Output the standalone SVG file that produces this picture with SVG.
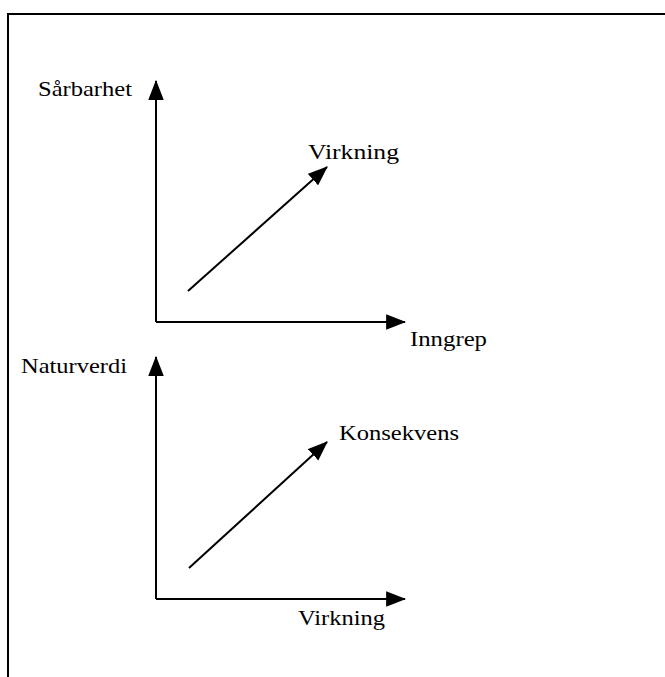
<svg xmlns="http://www.w3.org/2000/svg" width="665" height="677" viewBox="0 0 665 677">
<style>
.frame{fill:none;stroke:#000;stroke-width:2}
.ax{fill:none;stroke:#000;stroke-width:2;marker-end:url(#ah)}
text{font-family:"Liberation Serif","Times New Roman",serif;font-size:22px;fill:#000}
</style>
<defs>
<marker id="ah" markerUnits="userSpaceOnUse" markerWidth="20" markerHeight="16" viewBox="0 0 18 14" refX="17" refY="7" orient="auto">
<path d="M0,0 L18,7 L0,14 Z" fill="#000"/>
</marker>
</defs>
<rect width="665" height="677" fill="#fff"/>
<path class="frame" d="M8,677 V14 H665"/>
<g id="top-chart">
<g id="connectors-top">
<line class="ax" x1="156" y1="322" x2="156" y2="81"/>
<line class="ax" x1="156" y1="322" x2="405" y2="322"/>
<line class="ax" x1="188" y1="291" x2="327" y2="167"/>
</g>
<g id="label-sarbarhet"><text x="38" y="96" textLength="94" lengthAdjust="spacingAndGlyphs">Sårbarhet</text></g>
<g id="label-virkning-top"><text x="308" y="159" textLength="91" lengthAdjust="spacingAndGlyphs">Virkning</text></g>
<g id="label-inngrep"><text x="410" y="346" textLength="77" lengthAdjust="spacingAndGlyphs">Inngrep</text></g>
</g>
<g id="bottom-chart">
<g id="connectors-bottom">
<line class="ax" x1="156" y1="599" x2="156" y2="357"/>
<line class="ax" x1="156" y1="599" x2="405" y2="599"/>
<line class="ax" x1="189" y1="568" x2="327" y2="442"/>
</g>
<g id="label-naturverdi"><text x="21" y="373" textLength="106" lengthAdjust="spacingAndGlyphs">Naturverdi</text></g>
<g id="label-konsekvens"><text x="339" y="440" textLength="120" lengthAdjust="spacingAndGlyphs">Konsekvens</text></g>
<g id="label-virkning-bottom"><text x="298" y="625" textLength="87" lengthAdjust="spacingAndGlyphs">Virkning</text></g>
</g>
</svg>
